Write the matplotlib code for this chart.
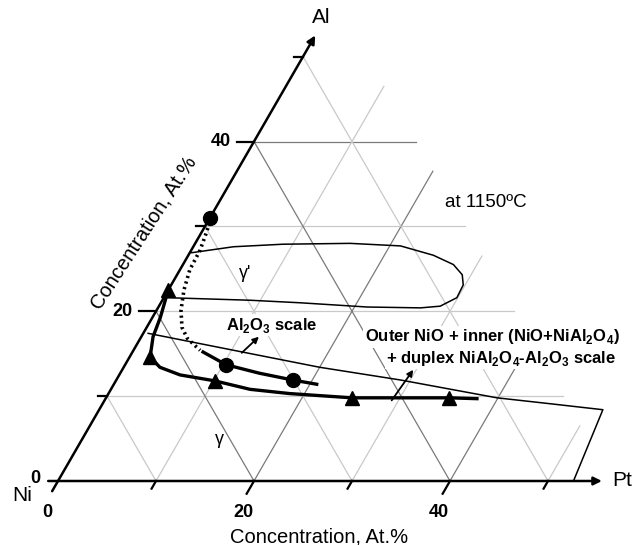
import numpy as np
import matplotlib.pyplot as plt

plt.rcParams['font.family'] = ['Liberation Sans', 'DejaVu Sans']
plt.rcParams['mathtext.fontset'] = 'custom'
plt.rcParams['mathtext.rm'] = 'Liberation Sans'
plt.rcParams['mathtext.bf'] = 'Liberation Sans:bold'

# compositions as (Pt at.%, Al at.%); Ni is the balance
# gamma-prime phase field
gp_pt = [0.2, 4.1, 9.0, 15.8, 21.1, 25.0, 27.6, 29.1, 29.8, 29.9, 28.7, 26.8, 21.3, 14.2, 8.9, 0.3]
gp_al = [26.9, 27.6, 27.9, 28.0, 27.7, 26.6, 25.5, 24.3, 23.1, 21.6, 20.6, 20.4, 20.5, 21.0, 21.3, 21.6]

# gamma / (gamma + gamma') boundary (thin line)
gb_pt = [0.5, 11.2, 20.0, 29.0, 39.9, 45.7, 51.4, 52.6]
gb_al = [17.4, 15.2, 13.4, 11.9, 9.8, 9.1, 8.4, 0.0]

# Al2O3-scale limit: dotted part and solid part (circles)
dot_pt = [0.1, 0.5, 0.9, 1.0, 1.6, 2.5, 3.6, 4.8, 6.8]
dot_al = [31.1, 29.3, 27.2, 24.9, 22.5, 20.1, 18.1, 16.8, 15.4]
circ_line_pt = [7.2, 10.3, 14.2, 18.0, 20.7]
circ_line_al = [15.2, 13.7, 12.7, 11.9, 11.4]
circ_pt = [0.0, 10.3, 18.0]
circ_al = [31.0, 13.7, 11.9]

# boundary of the NiO-forming region (triangles)
tri_line_pt = [0.0, 0.8, 1.2, 2.1, 3.7, 6.2, 10.1, 14.2, 18.5, 25.1, 35.0, 37.9]
tri_line_al = [22.5, 19.3, 17.0, 14.6, 13.4, 12.5, 11.8, 10.8, 10.3, 9.8, 9.8, 9.7]
tri_pt = [0.0, 2.1, 10.1, 25.1, 35.0]
tri_al = [22.5, 14.6, 11.8, 9.8, 9.8]

# label arrows: ([Pt tail, Pt head], [Al tail, Al head])
arrow_al2o3 = ([11.2, 12.0], [15.1, 17.0])
arrow_nio = ([29.3, 29.7], [9.5, 13.1])

al_ticks = [0, 10, 20, 30, 40, 50]
pt_ticks = [0, 10, 20, 30, 40, 50]
tick_labels = {0: '0', 20: '20', 40: '40'}


def tern(pt, al):
    pt = np.asarray(pt, float)
    al = np.asarray(al, float)
    return pt + al / 2, al * np.sqrt(3) / 2


fig = plt.figure(figsize=(6.34, 5.45), dpi=100)
ax = fig.add_axes([0, 0, 1, 1])
ax.set_xlim(-58 / 9.8, 576 / 9.8)
ax.set_ylim(-64 / 9.8, 481 / 9.8)
ax.axis('off')

light = '#c9c9c9'
dark = '#7a7a7a'
ni_edge = 43.5

# ternary grid
for a in (10, 20, 30, 40):
    x, y = tern([0, 100 - ni_edge - a], [a, a])
    ax.plot(x, y, color=dark if a == 40 else light, lw=0.9, zorder=1)
for p in (10, 20, 30, 40, 50):
    x, y = tern([p, p], [0, 100 - ni_edge - p])
    ax.plot(x, y, color=dark if p in (20, 40) else light, lw=0.9, zorder=1)
for ni in (90, 80, 70, 60, 50):
    x, y = tern([0, 100 - ni], [100 - ni, 0])
    ax.plot(x, y, color=dark if ni in (80, 60) else light, lw=0.9, zorder=1)

# axes with arrows
x, y = tern([0, 0], [-1.2, 52.5])
ax.annotate('', xy=(x[1], y[1]), xytext=(x[0], y[0]),
            arrowprops=dict(arrowstyle='-|>', lw=1.8, color='black',
                            mutation_scale=12, shrinkA=0, shrinkB=0), zorder=5)
x, y = tern([-1.0, 55.5], [0, 0])
ax.annotate('', xy=(x[1], y[1]), xytext=(x[0], y[0]),
            arrowprops=dict(arrowstyle='-|>', lw=1.8, color='black',
                            mutation_scale=12, shrinkA=0, shrinkB=0), zorder=5)

for a in al_ticks[1:]:
    ln = 1.75 if a in tick_labels else 0.9
    x, y = tern([0], [a])
    ax.plot([x[0] - ln, x[0]], [y[0], y[0]], color='black', lw=1.6, zorder=5)
for p in pt_ticks[1:]:
    ln = 1.5 if p in tick_labels else 0.9
    x, y = tern([p, p], [0, -ln])
    ax.plot(x, y, color='black', lw=1.6, zorder=5)

for v, s in tick_labels.items():
    x, y = tern([0], [v])
    ax.text(x[0] - (1.8 if v == 0 else 2.35), y[0] + (0.25 if v == 0 else 0), s,
            ha='right', va='center', fontsize=13, fontweight='bold')
    x, y = tern([v], [0])
    ax.text(x[0] - 1.1, -3.2, s, ha='center', va='center', fontsize=13,
            fontweight='bold')

ax.text(26.9, 47.3, 'Al', ha='center', va='center', fontsize=15)
ax.text(57.6, 0, 'Pt', ha='center', va='center', fontsize=15)
ax.text(-3.7, -1.5, 'Ni', ha='center', va='center', fontsize=15)
ax.text(26.6, -5.7, 'Concentration, At.%', ha='center', va='center', fontsize=14.5)
ax.text(8.8, 25.3, 'Concentration, At.%', ha='center', va='center', fontsize=14.5,
        rotation=57, rotation_mode='anchor')

# phase boundaries
x, y = tern(gp_pt, gp_al)
ax.plot(x, y, color='black', lw=1.1, zorder=3)
x, y = tern(gb_pt, gb_al)
ax.plot(x, y, color='black', lw=1.1, zorder=3)

x, y = tern(dot_pt, dot_al)
ax.plot(x, y, color='black', lw=2.6, linestyle=(0, (0.6, 1.0)), zorder=3)
x, y = tern(circ_line_pt, circ_line_al)
ax.plot(x, y, color='black', lw=2.4, zorder=3)
x, y = tern(circ_pt, circ_al)
ax.plot(x, y, 'o', color='black', ms=10, zorder=4)

x, y = tern(tri_line_pt, tri_line_al)
ax.plot(x, y, color='black', lw=2.4, zorder=3)
x, y = tern(tri_pt, tri_al)
ax.plot(x, y, '^', color='black', ms=10, zorder=4)

for tail_head in (arrow_al2o3, arrow_nio):
    x, y = tern(*tail_head)
    ax.annotate('', xy=(x[1], y[1]), xytext=(x[0], y[0]),
                arrowprops=dict(arrowstyle='-|>', lw=1.3, color='black',
                                mutation_scale=9, shrinkA=0, shrinkB=0), zorder=4)

box = dict(facecolor='white', edgecolor='none', pad=1)
ax.text(43.7, 28.4, 'at 1150ºC', ha='center', va='center', fontsize=13.5)
ax.text(19.1, 21.2, "γ'", ha='center', va='center', fontsize=13, bbox=box, zorder=2)
ax.text(16.5, 4.2, 'γ', ha='center', va='center', fontsize=13)
ax.text(21.8, 15.9, r'Al$_\mathbf{2}$O$_\mathbf{3}$ scale', ha='center', va='center',
        fontsize=12, fontweight='bold', bbox=box, zorder=2)
ax.text(44.3, 14.7, r'Outer NiO + inner (NiO+NiAl$_\mathbf{2}$O$_\mathbf{4}$)',
        ha='center', va='center', fontsize=12, fontweight='bold', bbox=box, zorder=2)
ax.text(45.2, 12.5, r'+ duplex NiAl$_\mathbf{2}$O$_\mathbf{4}$-Al$_\mathbf{2}$O$_\mathbf{3}$ scale',
        ha='center', va='center', fontsize=12, fontweight='bold', bbox=box, zorder=2)

fig.savefig('out.png', dpi=100)
